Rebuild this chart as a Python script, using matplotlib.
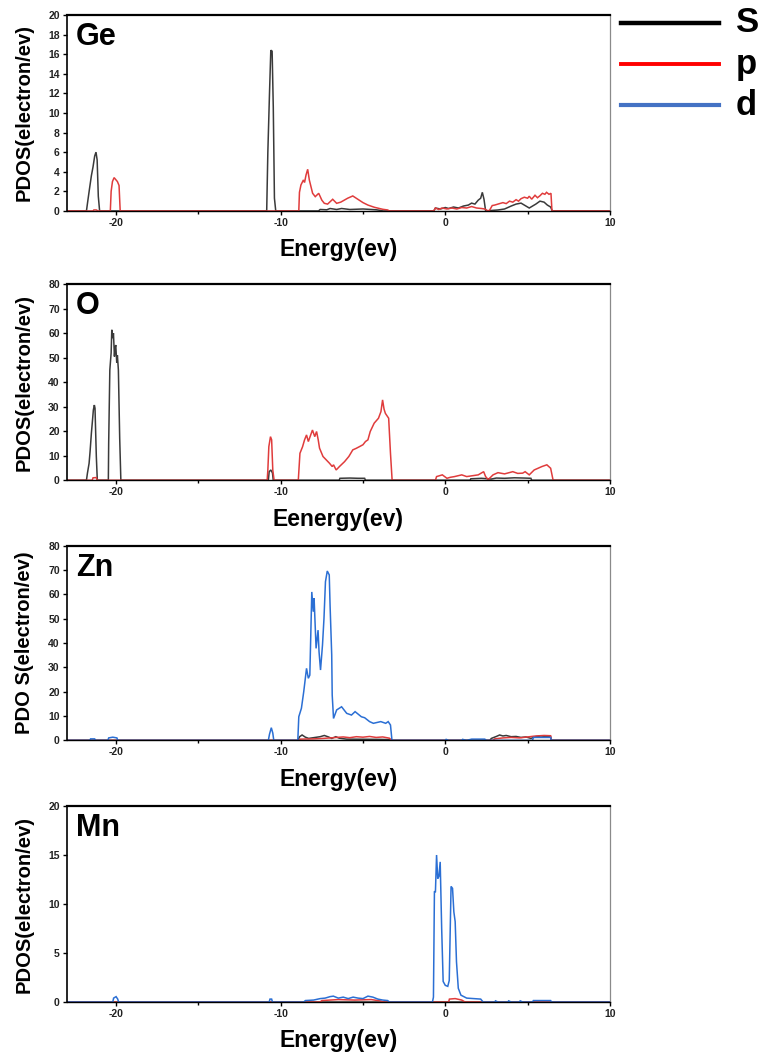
import matplotlib
matplotlib.use("Agg")
import matplotlib.pyplot as plt
from matplotlib.lines import Line2D
from matplotlib.ticker import MultipleLocator
from matplotlib import font_manager

plt.rcParams["axes.unicode_minus"] = False

NARROW = "Liberation Sans Narrow"
WIDE = "Liberation Sans"
names = {f.name for f in font_manager.fontManager.ttflist}
if NARROW not in names:
    NARROW = WIDE

# PDOS curves as (energy eV, states/eV) breakpoints
ge_s = [(-23, 0), (-21.8, 0), (-21.72, 1.0), (-21.62, 2.2), (-21.5, 3.6), (-21.4, 4.5), (-21.3, 5.6),
        (-21.22, 6.0), (-21.15, 5.2), (-21.08, 1.5), (-21.0, 0), (-10.85, 0), (-10.78, 6.0), (-10.68, 12.0),
        (-10.6, 16.4), (-10.52, 16.3), (-10.45, 10.6), (-10.38, 1.3), (-10.3, 0), (-7.7, 0), (-7.6, 0.15),
        (-7.2, 0.12), (-7.0, 0.25), (-6.6, 0.15), (-6.3, 0.25), (-5.8, 0.15), (-5.0, 0.2), (-4.2, 0.12),
        (-3.9, 0.05), (-3.8, 0), (-0.7, 0), (-0.6, 0.3), (-0.3, 0.2), (0.0, 0.35), (0.2, 0.25), (0.5, 0.4),
        (0.8, 0.3), (1.1, 0.5), (1.4, 0.6), (1.6, 0.8), (1.8, 0.7), (2.0, 1.1), (2.15, 1.3), (2.25, 1.9),
        (2.35, 1.2), (2.45, 0), (2.6, 0), (2.8, 0.05), (3.2, 0.1), (3.6, 0.2), (4.0, 0.5), (4.3, 0.7),
        (4.6, 0.8), (4.9, 0.5), (5.1, 0.3), (5.3, 0.5), (5.5, 0.7), (5.75, 1.0), (6.0, 0.9), (6.2, 0.6),
        (6.4, 0.4), (6.5, 0), (10, 0)]
ge_p = [(-23, 0), (-21.4, 0), (-21.35, 0.1), (-21.2, 0.1), (-21.1, 0), (-20.35, 0), (-20.3, 2.0),
        (-20.22, 3.0), (-20.12, 3.4), (-20.02, 3.2), (-19.92, 3.0), (-19.82, 2.6), (-19.75, 0), (-8.9, 0),
        (-8.86, 1.9), (-8.77, 2.65), (-8.62, 3.16), (-8.55, 2.9), (-8.46, 3.67), (-8.36, 4.25), (-8.26, 3.16),
        (-8.06, 1.8), (-7.9, 1.46), (-7.69, 1.8), (-7.5, 1.1), (-7.35, 0.78), (-7.15, 0.7), (-6.84, 1.19),
        (-6.6, 0.78), (-6.35, 0.9), (-5.93, 1.3), (-5.62, 1.53), (-5.32, 1.2), (-5.0, 0.85), (-4.7, 0.6),
        (-4.3, 0.37), (-3.8, 0.17), (-3.5, 0.1), (-3.4, 0), (-0.7, 0), (-0.6, 0.3), (-0.4, 0.15), (-0.2, 0.3),
        (0.1, 0.2), (0.4, 0.3), (0.7, 0.2), (1.0, 0.35), (1.3, 0.3), (1.6, 0.45), (1.9, 0.3), (2.2, 0.25),
        (2.4, 0.2), (2.6, 0), (2.7, 0.1), (2.85, 0.55), (3.0, 0.6), (3.2, 0.7), (3.5, 0.85), (3.7, 0.75),
        (3.9, 1.0), (4.1, 0.9), (4.3, 1.15), (4.45, 1.0), (4.6, 1.25), (4.8, 1.4), (5.0, 1.3), (5.1, 1.5),
        (5.25, 1.2), (5.45, 1.6), (5.6, 1.35), (5.75, 1.55), (5.9, 1.8), (6.05, 1.7), (6.15, 1.9),
        (6.3, 1.7), (6.42, 1.8), (6.48, 0), (10, 0)]

o_s = [(-23, 0), (-21.8, 0), (-21.74, 2.9), (-21.64, 6.9), (-21.58, 11.7), (-21.5, 19.2), (-21.44, 23.9),
       (-21.38, 28.7), (-21.32, 30.7), (-21.28, 29.4), (-21.2, 9.7), (-21.14, 0), (-20.47, 0), (-20.45, 15.1),
       (-20.38, 45), (-20.3, 52), (-20.26, 61.4), (-20.2, 58), (-20.16, 60), (-20.1, 50.5), (-20.06, 54),
       (-20.02, 55.2), (-19.96, 48), (-19.92, 51), (-19.86, 45), (-19.78, 17.1), (-19.71, 0), (-10.75, 0),
       (-10.7, 3.5), (-10.6, 4.2), (-10.5, 3.0), (-10.45, 0), (-6.45, 0), (-6.4, 0.8), (-5.8, 0.9),
       (-5.3, 0.8), (-4.9, 0.8), (-4.85, 0), (1.5, 0), (1.55, 0.6), (2.2, 0.8), (2.8, 0.5), (3.1, 0.9),
       (3.6, 0.8), (4.2, 1.0), (4.8, 0.9), (5.2, 0.8), (5.25, 0), (10, 0)]
o_p = [(-23, 0), (-21.45, 0), (-21.4, 1.0), (-21.2, 1.1), (-21.15, 0), (-10.82, 0), (-10.78, 4.2),
       (-10.72, 13.7), (-10.62, 17.8), (-10.55, 16.5), (-10.48, 4.2), (-10.4, 0), (-8.93, 0), (-8.83, 11),
       (-8.67, 13.7), (-8.55, 16.5), (-8.43, 18.5), (-8.32, 15.8), (-8.07, 20.5), (-7.93, 17.8),
       (-7.82, 19.9), (-7.72, 16.5), (-7.64, 13.1), (-7.43, 9.7), (-7.23, 8.3), (-7.03, 6.9), (-6.87, 5.6),
       (-6.79, 6.3), (-6.63, 4.2), (-6.43, 5.6), (-6.12, 7.6), (-5.86, 9.7), (-5.62, 12.4), (-5.42, 13.0),
       (-5.22, 13.7), (-5.0, 14.5), (-4.85, 15.8), (-4.7, 16.5), (-4.56, 19.9), (-4.32, 23.3),
       (-4.06, 25.3), (-3.91, 28), (-3.81, 32.8), (-3.72, 29), (-3.64, 27.3), (-3.44, 25.3), (-3.33, 11),
       (-3.23, 0), (-0.6, 0), (-0.53, 1.5), (-0.18, 2.2), (0.1, 0.8), (0.3, 1.2), (0.56, 1.5), (1.0, 2.2),
       (1.3, 1.5), (1.7, 1.9), (2.0, 2.2), (2.33, 3.5), (2.45, 1.5), (2.6, 0.3), (2.75, 1.2), (2.9, 2.2),
       (3.2, 3.1), (3.6, 2.6), (4.1, 3.5), (4.4, 2.8), (4.7, 2.9), (4.85, 3.5), (5.1, 2.2), (5.4, 4.2),
       (5.87, 5.6), (6.17, 6.3), (6.4, 4.9), (6.55, 0), (10, 0)]

zn_s = [(-23, 0), (-8.95, 0), (-8.85, 1.5), (-8.7, 2.2), (-8.5, 1.3), (-8.3, 0.8), (-7.9, 1.2), (-7.6, 1.5),
        (-7.35, 2.0), (-7.1, 1.4), (-6.9, 0.8), (-6.65, 1.5), (-6.45, 0.9), (-6.0, 0.5), (-4.0, 0.4),
        (-3.3, 0.3), (-3.25, 0), (2.7, 0), (2.8, 0.8), (3.1, 1.6), (3.3, 2.2), (3.5, 1.8), (3.7, 2.0),
        (4.0, 1.5), (4.3, 1.6), (4.6, 1.2), (4.9, 1.4), (5.2, 0.8), (5.5, 1.5), (5.8, 1.8), (6.1, 1.6),
        (6.4, 1.4), (6.45, 0), (10, 0)]
zn_p = [(-23, 0), (-8.9, 0), (-8.8, 0.5), (-8.0, 0.6), (-7.4, 0.8), (-7.0, 1.0), (-6.6, 1.2), (-6.2, 1.4),
        (-5.8, 1.1), (-5.4, 1.5), (-5.0, 1.3), (-4.6, 1.6), (-4.2, 1.2), (-3.8, 1.4), (-3.4, 0.9),
        (-3.25, 0), (2.9, 0), (3.0, 0.6), (3.5, 1.0), (4.0, 1.2), (4.5, 1.0), (5.0, 1.4), (5.5, 1.8),
        (6.0, 2.0), (6.4, 1.9), (6.45, 0), (10, 0)]
zn_d = [(-23, 0), (-21.6, 0), (-21.55, 0.6), (-21.3, 0.6), (-21.25, 0), (-20.5, 0), (-20.45, 1.0),
        (-20.2, 1.3), (-19.95, 1.0), (-19.9, 0), (-10.75, 0), (-10.68, 2.5), (-10.57, 5.2), (-10.48, 3.0),
        (-10.42, 0), (-8.96, 0), (-8.9, 9.7), (-8.74, 13.2), (-8.6, 20), (-8.43, 29.6), (-8.32, 25.5),
        (-8.23, 26.8), (-8.11, 61), (-8.02, 52.9), (-7.97, 58.4), (-7.85, 37.8), (-7.73, 45.3),
        (-7.67, 36.4), (-7.58, 28.9), (-7.46, 39.2), (-7.37, 50.1), (-7.28, 65.2), (-7.17, 69.6),
        (-7.05, 68), (-7.0, 55.6), (-6.9, 35.1), (-6.87, 18.6), (-6.79, 9.0), (-6.6, 12.5), (-6.3, 13.8),
        (-5.99, 11.1), (-5.7, 10.4), (-5.48, 11.8), (-5.1, 9.7), (-4.9, 9.3), (-4.6, 7.7), (-4.37, 7.0),
        (-3.92, 7.7), (-3.62, 7.0), (-3.47, 7.7), (-3.33, 6.3), (-3.24, 0), (0.0, 0), (0.05, 0.4),
        (0.2, 0), (1.0, 0), (1.05, 0.4), (1.3, 0), (1.6, 0.5), (2.4, 0.5), (2.5, 0), (5.3, 0),
        (5.35, 1.2), (6.4, 1.2), (6.45, 0), (10, 0)]

mn_s = [(-23, 0), (10, 0)]
mn_p = [(-23, 0), (-7.6, 0), (-7.5, 0.15), (-6.5, 0.25), (-5.5, 0.2), (-4.5, 0.25), (-3.9, 0.1),
        (-3.8, 0), (0.2, 0), (0.25, 0.3), (0.6, 0.35), (1.0, 0.2), (1.2, 0), (10, 0)]
mn_d = [(-23, 0), (-20.2, 0), (-20.15, 0.4), (-20.0, 0.55), (-19.9, 0.3), (-19.85, 0), (-10.7, 0),
        (-10.65, 0.3), (-10.55, 0.3), (-10.5, 0), (-8.6, 0), (-8.5, 0.15), (-8.0, 0.2), (-7.6, 0.35),
        (-7.3, 0.4), (-7.0, 0.55), (-6.8, 0.6), (-6.5, 0.4), (-6.2, 0.5), (-5.9, 0.35), (-5.6, 0.5),
        (-5.3, 0.4), (-5.0, 0.35), (-4.7, 0.6), (-4.4, 0.5), (-4.1, 0.3), (-3.8, 0.2), (-3.5, 0.15),
        (-3.4, 0), (-0.78, 0), (-0.72, 0.5), (-0.66, 11.3), (-0.6, 11.2), (-0.53, 15.0), (-0.46, 12.6),
        (-0.39, 12.8), (-0.31, 14.3), (-0.22, 7.5), (-0.13, 2.1), (0.0, 1.7), (0.15, 1.6), (0.24, 2.2),
        (0.35, 11.8), (0.44, 11.6), (0.52, 9.2), (0.6, 8.2), (0.68, 4.1), (0.79, 1.4), (0.95, 0.7),
        (1.3, 0.4), (2.15, 0.3), (2.3, 0), (3.0, 0), (3.05, 0.12), (3.2, 0), (3.8, 0), (3.85, 0.12),
        (4.0, 0), (4.5, 0), (4.55, 0.12), (4.7, 0), (5.3, 0), (5.35, 0.15), (6.4, 0.15), (6.45, 0), (10, 0)]

elements = ["Ge", "O", "Zn", "Mn"]
curves = [{"s": ge_s, "p": ge_p}, {"s": o_s, "p": o_p},
          {"s": zn_s, "p": zn_p, "d": zn_d}, {"s": mn_s, "p": mn_p, "d": mn_d}]
y_max = [20, 80, 80, 20]
y_step = [2, 10, 10, 5]
x_labels = ["Energy(ev)", "Eenergy(ev)", "Energy(ev)", "Energy(ev)"]
y_labels = ["PDOS(electron/ev)", "PDOS(electron/ev)", "PDO S(electron/ev)", "PDOS(electron/ev)"]
orbitals = ["S", "p", "d"]

line_col = {"s": "#3a3a3a", "p": "#e03c3c", "d": "#2b6fd4"}
key_col = ["#000000", "#ff0000", "#4472c4"]

# axes boxes in figure fractions: left, bottom, width, height
boxes = [(0.0873, 0.8008, 0.711, 0.1851),
         (0.0873, 0.5465, 0.711, 0.1851),
         (0.0873, 0.3009, 0.711, 0.1838),
         (0.0873, 0.0538, 0.711, 0.1851)]

fig = plt.figure(figsize=(7.64, 10.59), dpi=100)

for i in range(4):
    ax = fig.add_axes(boxes[i])
    for key in ["s", "p", "d"]:
        if key in curves[i]:
            e = [pt[0] for pt in curves[i][key]]
            v = [pt[1] for pt in curves[i][key]]
            ax.plot(e, v, color=line_col[key], lw=1.1, solid_joinstyle="miter")

    ax.set_xlim(-23, 10)
    ax.set_ylim(0, y_max[i])
    ax.xaxis.set_major_locator(MultipleLocator(10))
    ax.xaxis.set_minor_locator(MultipleLocator(5))
    ax.yaxis.set_major_locator(MultipleLocator(y_step[i]))
    ax.tick_params(axis="both", which="major", direction="out", length=3, width=1, pad=2)
    ax.tick_params(axis="x", which="minor", direction="out", length=2.5, width=1)
    ax.tick_params(axis="y", which="minor", left=False)
    for lab in ax.get_xticklabels() + ax.get_yticklabels():
        lab.set_family(NARROW)
        lab.set_fontweight("bold")
        lab.set_fontsize(7.5)
        lab.set_color("#222222")

    ax.spines["top"].set_linewidth(1.6)
    ax.spines["left"].set_linewidth(1.2)
    ax.spines["bottom"].set_linewidth(1.0)
    ax.spines["right"].set_linewidth(0.9)
    ax.spines["right"].set_color("#8a8a8a")

    ax.set_xlabel(x_labels[i], family=NARROW, fontweight="bold", fontsize=16.5)
    ax.xaxis.set_label_coords(0.5, -0.14)
    ax.xaxis.label.set_va("top")
    ax.set_ylabel(y_labels[i], family=WIDE, fontweight="bold", fontsize=14.5)
    ax.yaxis.set_label_coords(-0.06, 0.5)

    name_font = WIDE if elements[i] == "O" else NARROW
    ax.text(0.017, 0.965, elements[i], transform=ax.transAxes, ha="left", va="top",
            family=name_font, fontweight="bold", fontsize=22)

# orbital key at the upper right
key_y = [0.9786, 0.9393, 0.9008]
key_lw = [3.2, 2.8, 3.0]
for k in range(3):
    fig.add_artist(Line2D([0.813, 0.941], [key_y[k], key_y[k]], color=key_col[k],
                          lw=key_lw[k], transform=fig.transFigure))
    fig.text(0.963, key_y[k], orbitals[k], ha="left", va="center", family=WIDE,
             fontweight="bold", fontsize=25)

fig.savefig("out.png", dpi=100)
